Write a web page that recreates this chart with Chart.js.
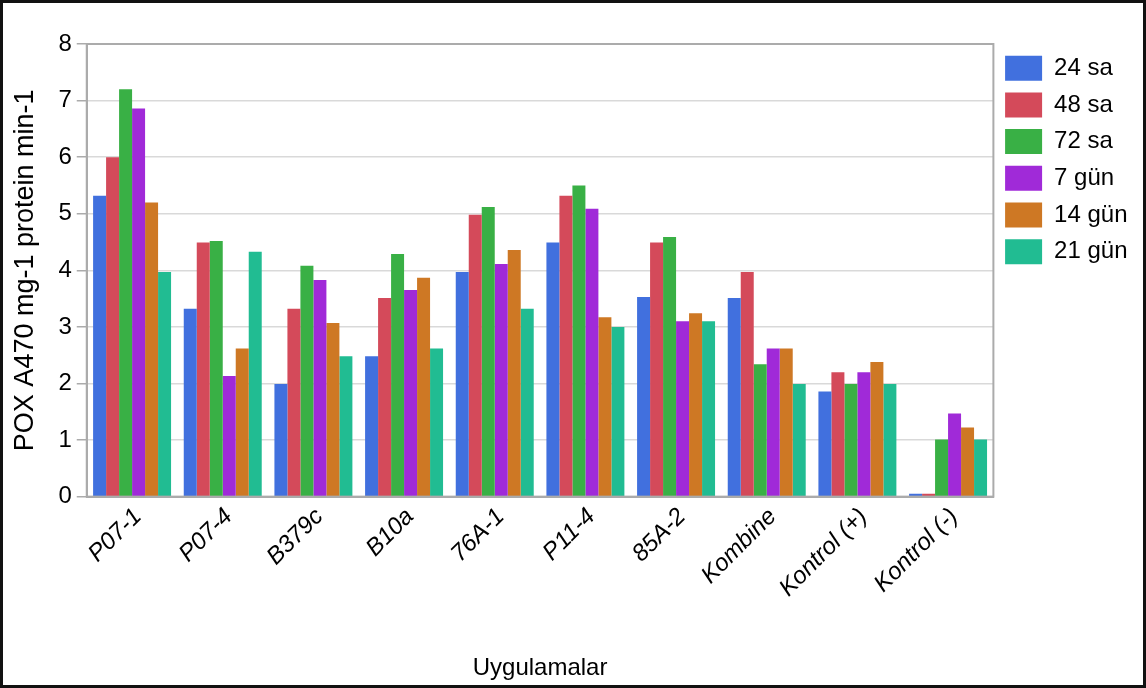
<!DOCTYPE html>
<html>
<head>
<meta charset="utf-8">
<script src="https://cdn.jsdelivr.net/npm/chart.js@4.4.1/dist/chart.umd.min.js"></script>
<style>
  html, body { margin: 0; padding: 0; background: #fff; }
  #wrap { position: relative; width: 1146px; height: 688px; }
  canvas { display: block; }
</style>
</head>
<body>
<div id="wrap"><canvas id="c" width="1146" height="688"></canvas></div>
<script>
const categories = ['P07-1', 'P07-4', 'B379c', 'B10a', '76A-1', 'P11-4', '85A-2', 'Kombine', 'Kontrol (+)', 'Kontrol (-)'];
const seriesNames = ['24 sa', '48 sa', '72 sa', '7 gün', '14 gün', '21 gün'];
const sa24  = [5.32, 3.32, 1.99, 2.48, 3.97, 4.49, 3.53, 3.51, 1.86, 0.05];
const sa48  = [6.00, 4.49, 3.32, 3.51, 4.98, 5.32, 4.49, 3.97, 2.20, 0.05];
const sa72  = [7.20, 4.52, 4.08, 4.29, 5.12, 5.50, 4.59, 2.34, 1.99, 1.01];
const gun7  = [6.86, 2.13, 3.83, 3.65, 4.11, 5.09, 3.10, 2.62, 2.20, 1.47];
const gun14 = [5.20, 2.62, 3.07, 3.87, 4.36, 3.17, 3.24, 2.62, 2.38, 1.22];
const gun21 = [3.97, 4.33, 2.48, 2.62, 3.32, 3.00, 3.10, 1.99, 1.99, 1.01];
const yTicks = [0, 1, 2, 3, 4, 5, 6, 7, 8];
const yTitle = 'POX A470 mg-1 protein min-1';
const xTitle = 'Uygulamalar';

const colors = ['#4170DE', '#D44A5A', '#39B045', '#A02AD8', '#CE7824', '#21BC92'];
const seriesValues = [sa24, sa48, sa72, gun7, gun14, gun21];

const FONT = '"Liberation Sans", Arial, sans-serif';

const frame = {
  id: 'frame',
  afterDraw(chart) {
    const ctx = chart.ctx;
    const a = chart.chartArea;
    ctx.save();
    ctx.strokeStyle = '#ababab';
    ctx.lineWidth = 2;
    ctx.strokeRect(a.left, a.top, a.right - a.left, a.bottom - a.top);
    ctx.strokeStyle = '#111';
    ctx.lineWidth = 3;
    ctx.strokeRect(1.5, 1.5, chart.width - 3, chart.height - 3);
    ctx.restore();
  }
};

new Chart(document.getElementById('c'), {
  type: 'bar',
  data: {
    labels: categories,
    datasets: seriesNames.map((n, i) => ({
      label: n,
      data: seriesValues[i],
      backgroundColor: colors[i],
      borderWidth: 0,
      barPercentage: 1.0,
      categoryPercentage: 0.86
    }))
  },
  options: {
    responsive: false,
    animation: false,
    devicePixelRatio: 1,
    layout: { padding: { left: 6, top: 44, right: 8.5, bottom: 3 } },
    plugins: {
      legend: {
        position: 'right',
        align: 'start',
        labels: {
          boxWidth: 37,
          boxHeight: 25,
          padding: 11.7,
          color: '#000',
          font: { family: FONT, size: 24 }
        }
      },
      tooltip: { enabled: false }
    },
    scales: {
      x: {
        grid: { display: false, drawTicks: false },
        border: { display: true, color: '#ababab', width: 2 },
        ticks: {
          color: '#000',
          font: { family: FONT, size: 24, style: 'italic' },
          minRotation: 45,
          maxRotation: 45,
          autoSkip: false,
          padding: 6,
          labelOffset: 6
        },
        title: {
          display: true,
          text: xTitle,
          color: '#000',
          font: { family: FONT, size: 24 },
          padding: { top: 45, bottom: 2.5 }
        }
      },
      y: {
        min: 0,
        max: 8,
        afterBuildTicks(axis) { axis.ticks = yTicks.map(v => ({ value: v })); },
        grid: { color: '#d9d9d9', lineWidth: 1.5, tickLength: 10, tickColor: '#ababab', tickWidth: 1.5 },
        border: { display: true, color: '#ababab', width: 2 },
        ticks: {
          color: '#000',
          font: { family: FONT, size: 24 },
          padding: 5
        },
        title: {
          display: true,
          text: yTitle,
          color: '#000',
          font: { family: FONT, size: 27 },
          padding: { top: 3, bottom: 12 }
        }
      }
    }
  },
  plugins: [frame]
});
</script>
</body>
</html>
